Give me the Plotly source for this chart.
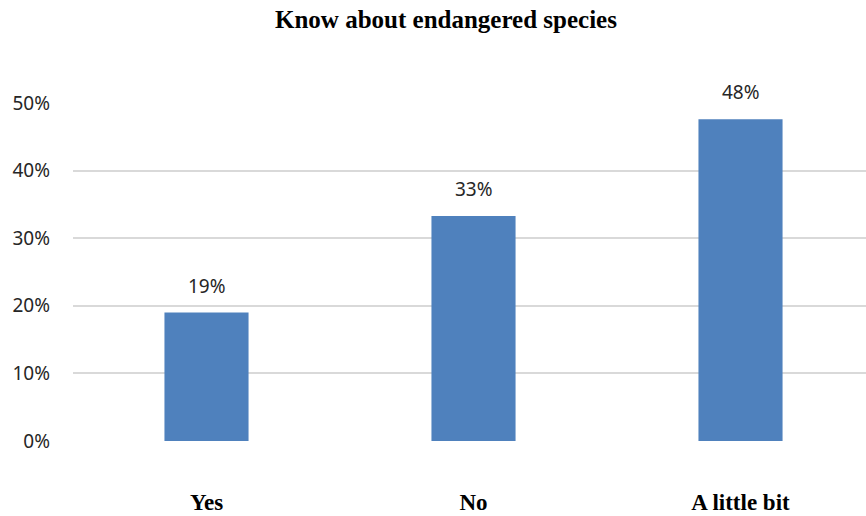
import plotly.graph_objects as go

categories = ["Yes", "No", "A little bit"]
shares = [0.190, 0.333, 0.476]
y_ticks = [0, 0.1, 0.2, 0.3, 0.4, 0.5]
y_tick_labels = ["0%", "10%", "20%", "30%", "40%", "50%"]

bar_color = "#4f81bd"
grid_color = "#d9d9d9"

fig = go.Figure()
fig.add_trace(go.Bar(
    x=categories,
    y=shares,
    width=0.315,
    marker=dict(color=bar_color, line=dict(width=0)),
    hoverinfo="skip",
))

for cat, val in zip(categories, shares):
    fig.add_annotation(
        x=cat, y=val, text=f"{round(val * 100)}%",
        showarrow=False, yanchor="bottom", yshift=12,
        font=dict(family="Noto Sans", size=19, color="#262626"),
    )

fig.update_layout(
    width=866, height=516,
    margin=dict(l=73, r=0, t=103, b=75),
    paper_bgcolor="white", plot_bgcolor="white",
    showlegend=False,
    title=dict(
        text="<b>Know about endangered species</b>",
        x=0.515, xanchor="center", y=0.962, yanchor="middle",
        font=dict(family="Liberation Serif", size=25, color="black"),
    ),
    xaxis=dict(
        range=[-0.5, 2.47],
        showgrid=False, zeroline=False, showline=False,
        ticks="", ticklabelstandoff=45,
        tickfont=dict(family="Liberation Serif", size=23, color="black"),
        tickprefix="<b>", ticksuffix="</b>",
    ),
    yaxis=dict(
        range=[0, 0.5],
        tickvals=y_ticks, ticktext=y_tick_labels,
        showgrid=True, gridcolor=grid_color, gridwidth=2,
        zeroline=False, showline=False, ticks="",
        ticklabelstandoff=22,
        tickfont=dict(family="Noto Sans", size=19, color="#262626"),
    ),
)

fig.write_html("out.html")
